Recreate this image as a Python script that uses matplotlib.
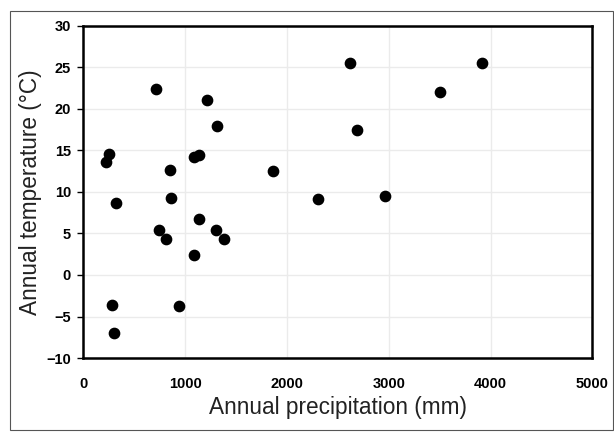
import matplotlib.pyplot as plt
from matplotlib.patches import Rectangle

# Annual precipitation (mm) vs annual temperature (°C)
precip = [219, 250, 323, 277, 300, 712, 742, 808, 846, 862, 942, 1085, 1135,
          1131, 1088, 1219, 1308, 1304, 1377, 1858, 2300, 2623, 2688, 2958,
          3504, 3919]
temp = [13.6, 14.6, 8.7, -3.6, -7.0, 22.4, 5.4, 4.3, 12.7, 9.3, -3.7, 14.2,
        14.5, 6.7, 2.4, 21.1, 17.9, 5.4, 4.3, 12.5, 9.1, 25.5, 17.5, 9.5,
        22.0, 25.5]

x_ticks = [0, 1000, 2000, 3000, 4000, 5000]
y_ticks = [-10, -5, 0, 5, 10, 15, 20, 25, 30]

plt.rcParams["font.family"] = ["Liberation Sans", "DejaVu Sans"]

fig = plt.figure(figsize=(6.14, 4.33), dpi=100)
ax = fig.add_axes([0.1358, 0.1732, 0.829, 0.7668])

# thin frame around the whole chart
fig.patches.append(Rectangle((10 / 614, 3 / 433), 1 - 11 / 614, 1 - 14 / 433,
                             transform=fig.transFigure, fill=False,
                             edgecolor="#555555", linewidth=0.8))

ax.scatter(precip, temp, s=55, color="black", zorder=3)

ax.set_xlim(0, 5000)
ax.set_ylim(-10, 30)
ax.set_xticks(x_ticks)
ax.set_yticks(y_ticks)
ax.grid(True, color="#ebebeb", linewidth=1.0)
ax.set_axisbelow(True)

for sp in ax.spines.values():
    sp.set_linewidth(1.8)
    sp.set_color("black")

ax.tick_params(axis="x", length=0, pad=14)
ax.tick_params(axis="y", length=4, width=1, pad=5, direction="out")
for lab in ax.get_xticklabels() + ax.get_yticklabels():
    lab.set_fontweight("bold")
    lab.set_fontsize(10.5)

ax.set_xlabel("Annual precipitation (mm)", fontsize=16.3, labelpad=3,
              color="#222222")
ax.set_ylabel("Annual temperature (°C)", fontsize=16.3, labelpad=3,
              color="#222222")

plt.savefig("out.png", dpi=100)
